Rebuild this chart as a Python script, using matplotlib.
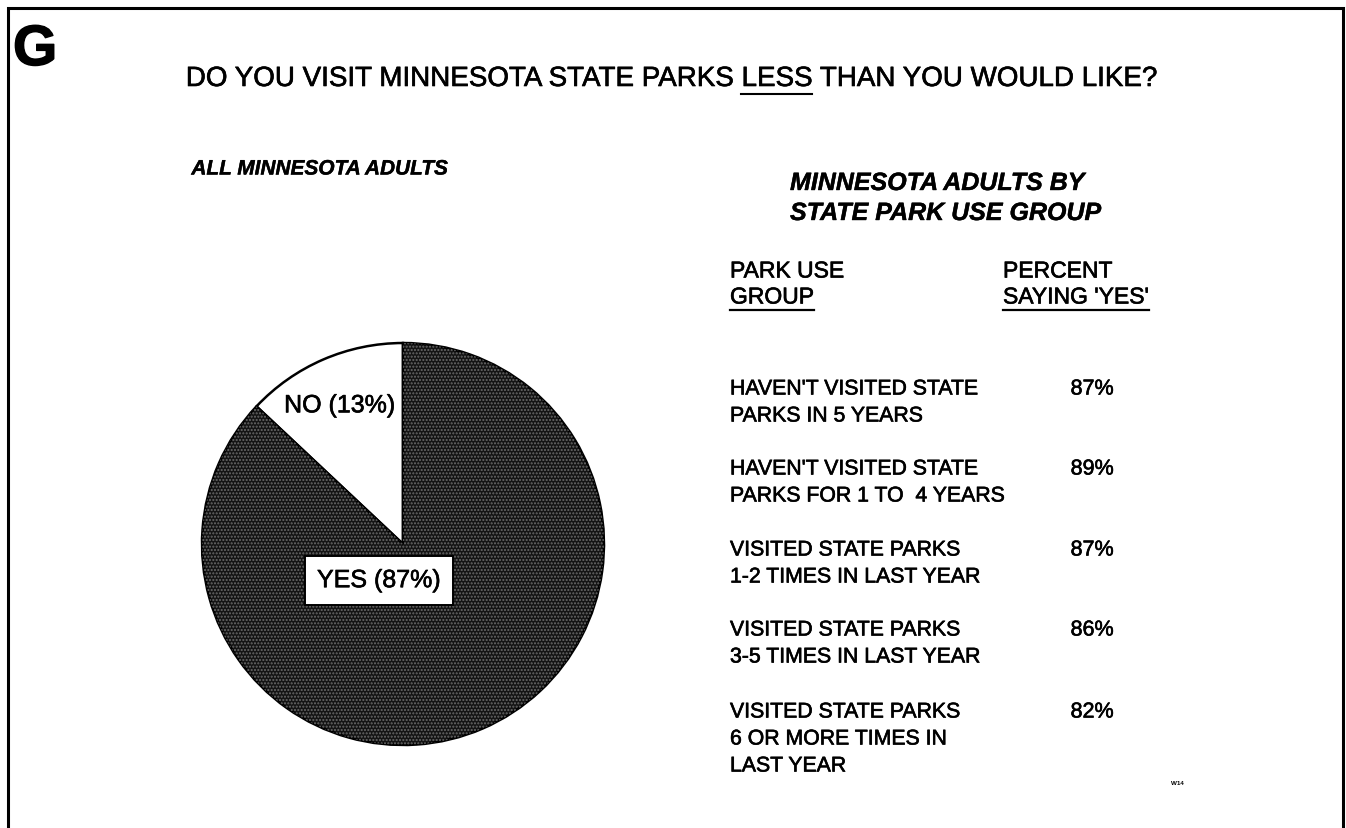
import matplotlib
matplotlib.use("Agg")
import matplotlib.pyplot as plt
from matplotlib.lines import Line2D
import matplotlib.patheffects as pe

plt.rcParams["font.family"] = ["Liberation Sans", "DejaVu Sans"]

# ---- data ----
pie_labels = ["NO (13%)", "YES (87%)"]
pie_values = [13, 87]

groups = [
    "HAVEN'T VISITED STATE\nPARKS IN 5 YEARS",
    "HAVEN'T VISITED STATE\nPARKS FOR 1 TO  4 YEARS",
    "VISITED STATE PARKS\n1-2 TIMES IN LAST YEAR",
    "VISITED STATE PARKS\n3-5 TIMES IN LAST YEAR",
    "VISITED STATE PARKS\n6 OR MORE TIMES IN\nLAST YEAR",
]
pct_yes = [87, 89, 87, 86, 82]

W, H = 1346, 829
fig = plt.figure(figsize=(W / 100, H / 100), dpi=100)
fig.patch.set_facecolor("white")

# slightly heavier strokes for the printed look
ink = [pe.withStroke(linewidth=0.45, foreground="black")]
ink_thin = [pe.withStroke(linewidth=0.3, foreground="black")]

# canvas axes in pixel units (y grows downward)
ax = fig.add_axes([0, 0, 1, 1])
ax.set_xlim(0, W)
ax.set_ylim(H, 0)
ax.axis("off")

# frame (open at the bottom)
ax.add_line(Line2D([8, 8, 1343, 1343], [H, 9, 9, H], color="black", lw=2.2,
                   solid_joinstyle="miter"))

ax.text(13, 51, "G", fontsize=41, fontweight="bold", ha="left", va="center",
        path_effects=[pe.withStroke(linewidth=1.0, foreground="black")])

renderer = fig.canvas.get_renderer()


def text_width(s, **kw):
    t = ax.text(0, 0, s, **kw)
    bb = t.get_window_extent(renderer=renderer)
    t.remove()
    return bb.width


def underline(t, y_off, lw=1.6):
    bb = t.get_window_extent(renderer=renderer)
    inv = ax.transData.inverted()
    (x0, _), (x1, _) = inv.transform([(bb.x0, bb.y0), (bb.x1, bb.y0)])
    ax.add_line(Line2D([x0, x1], [y_off, y_off], color="black", lw=lw))


# main question with the word LESS underlined
title = "DO YOU VISIT MINNESOTA STATE PARKS LESS THAN YOU WOULD LIKE?"
tkw = dict(fontsize=20)
full_w = text_width(title, **tkw)
x_start = 671 - full_w / 2
ax.text(x_start, 80, title, ha="left", va="center", path_effects=ink, **tkw)
end_less = x_start + text_width("DO YOU VISIT MINNESOTA STATE PARKS LESS", **tkw)
less_w = text_width("LESS", **tkw)
ax.add_line(Line2D([end_less - less_w, end_less], [95, 95], color="black", lw=1.5))

# sub-headings
sub_kw = dict(fontweight="bold", fontstyle="italic", path_effects=ink_thin)
ax.text(320, 170, "ALL MINNESOTA ADULTS", ha="center", va="center",
        fontsize=15, **sub_kw)
ax.text(790, 184, "MINNESOTA ADULTS BY", ha="left", va="center",
        fontsize=18, **sub_kw)
ax.text(790, 214, "STATE PARK USE GROUP", ha="left", va="center",
        fontsize=18, **sub_kw)

# pie
cx, cy, r = 403, 545, 203
pax = fig.add_axes([(cx - r) / W, (H - cy - r) / H, 2 * r / W, 2 * r / H])
wedges, _ = pax.pie(pie_values, startangle=90, counterclock=True,
                    colors=["white", "#141414"],
                    wedgeprops=dict(edgecolor="black", linewidth=1.8))
# fine halftone dots over the dark slice
hatch_w, _ = pax.pie(pie_values, startangle=90, counterclock=True,
                     colors=["none", "none"],
                     wedgeprops=dict(edgecolor="#6a6a6a", linewidth=0))
hatch_w[0].set_visible(False)
hatch_w[1].set_hatch(".....")
pax.set_xlim(-1.01, 1.01)
pax.set_ylim(-1.01, 1.01)
pax.set_aspect("equal")
pax.axis("off")

pax.text(-0.315, 0.69, pie_labels[0], fontsize=18, ha="center", va="center",
         path_effects=ink)
pax.text(-0.12, -0.18, pie_labels[1], fontsize=18, ha="center", va="center",
         path_effects=ink,
         bbox=dict(boxstyle="square,pad=0.5", facecolor="white",
                   edgecolor="black", linewidth=1.4))

# table headers
hdr_kw = dict(fontsize=16.5, path_effects=ink)
ax.text(730, 272, "PARK USE", ha="left", va="center", **hdr_kw)
t_grp = ax.text(730, 298, "GROUP", ha="left", va="center", **hdr_kw)
ax.text(1003, 272, "PERCENT", ha="left", va="center", **hdr_kw)
t_say = ax.text(1003, 298, "SAYING 'YES'", ha="left", va="center", **hdr_kw)
underline(t_grp, 311)
underline(t_say, 311)

# table rows
row_y = [390, 470, 551, 631, 713]
line_gap = 27
for y, g, p in zip(row_y, groups, pct_yes):
    for i, line in enumerate(g.split("\n")):
        ax.text(730, y + i * line_gap, line, fontsize=15.3, ha="left",
                va="center", path_effects=ink)
    ax.text(1092, y, f"{p}%", fontsize=15.5, ha="center", va="center",
            path_effects=ink)

ax.text(1177, 784, "W14", fontsize=4.5, fontweight="bold", ha="center", va="center")

fig.savefig("out.png", dpi=100, facecolor="white")
